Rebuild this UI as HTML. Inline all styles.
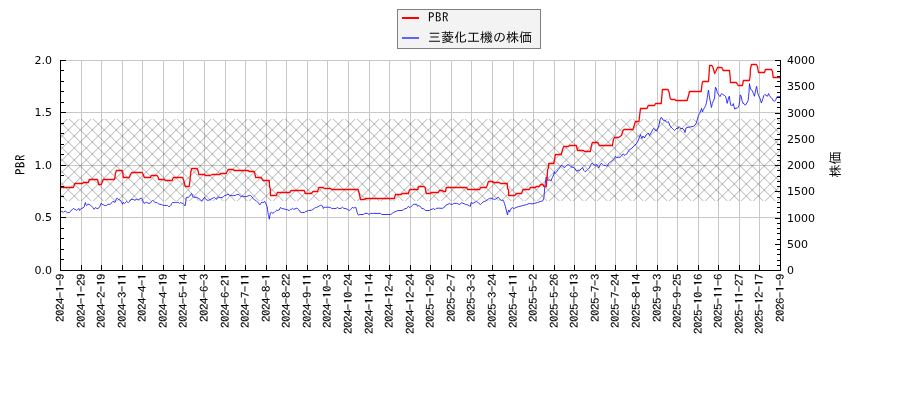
<!DOCTYPE html>
<html><head><meta charset="utf-8"><style>html,body{margin:0;padding:0;background:#fff;overflow:hidden}svg{display:block;will-change:transform}</style></head>
<body><svg width="900" height="400" viewBox="0 0 900 400">
<rect width="900" height="400" fill="#ffffff"/>
<path d="M81.5 60V270M101.5 60V270M122.5 60V270M142.5 60V270M163.5 60V270M183.5 60V270M204.5 60V270M225.5 60V270M245.5 60V270M266.5 60V270M286.5 60V270M307.5 60V270M327.5 60V270M348.5 60V270M369.5 60V270M389.5 60V270M410.5 60V270M430.5 60V270M451.5 60V270M471.5 60V270M492.5 60V270M513.5 60V270M533.5 60V270M554.5 60V270M574.5 60V270M595.5 60V270M615.5 60V270M636.5 60V270M657.5 60V270M677.5 60V270M698.5 60V270M718.5 60V270M739.5 60V270M759.5 60V270M60 217.5H780M60 165.5H780M60 112.5H780M60 60.5H780" stroke="#c8c8c8" stroke-width="1" fill="none"/>
<clipPath id="hc"><rect x="61" y="119" width="719" height="82"/></clipPath>
<g clip-path="url(#hc)" fill="none" stroke="#000" stroke-opacity="0.31" stroke-width="1.0"><path d="M45.30 117L-40.70 203M57.30 117L-28.70 203M69.30 117L-16.70 203M81.30 117L-4.70 203M93.30 117L7.30 203M105.30 117L19.30 203M117.30 117L31.30 203M129.30 117L43.30 203M141.30 117L55.30 203M153.30 117L67.30 203M165.30 117L79.30 203M177.30 117L91.30 203M189.30 117L103.30 203M201.30 117L115.30 203M213.30 117L127.30 203M225.30 117L139.30 203M237.30 117L151.30 203M249.30 117L163.30 203M261.30 117L175.30 203M273.30 117L187.30 203M285.30 117L199.30 203M297.30 117L211.30 203M309.30 117L223.30 203M321.30 117L235.30 203M333.30 117L247.30 203M345.30 117L259.30 203M357.30 117L271.30 203M369.30 117L283.30 203M381.30 117L295.30 203M393.30 117L307.30 203M405.30 117L319.30 203M417.30 117L331.30 203M429.30 117L343.30 203M441.30 117L355.30 203M453.30 117L367.30 203M465.30 117L379.30 203M477.30 117L391.30 203M489.30 117L403.30 203M501.30 117L415.30 203M513.30 117L427.30 203M525.30 117L439.30 203M537.30 117L451.30 203M549.30 117L463.30 203M561.30 117L475.30 203M573.30 117L487.30 203M585.30 117L499.30 203M597.30 117L511.30 203M609.30 117L523.30 203M621.30 117L535.30 203M633.30 117L547.30 203M645.30 117L559.30 203M657.30 117L571.30 203M669.30 117L583.30 203M681.30 117L595.30 203M693.30 117L607.30 203M705.30 117L619.30 203M717.30 117L631.30 203M729.30 117L643.30 203M741.30 117L655.30 203M753.30 117L667.30 203M765.30 117L679.30 203M777.30 117L691.30 203M789.30 117L703.30 203M801.30 117L715.30 203M813.30 117L727.30 203M825.30 117L739.30 203M837.30 117L751.30 203M849.30 117L763.30 203M861.30 117L775.30 203M873.30 117L787.30 203"/><path d="M-40.70 117L45.30 203M-28.70 117L57.30 203M-16.70 117L69.30 203M-4.70 117L81.30 203M7.30 117L93.30 203M19.30 117L105.30 203M31.30 117L117.30 203M43.30 117L129.30 203M55.30 117L141.30 203M67.30 117L153.30 203M79.30 117L165.30 203M91.30 117L177.30 203M103.30 117L189.30 203M115.30 117L201.30 203M127.30 117L213.30 203M139.30 117L225.30 203M151.30 117L237.30 203M163.30 117L249.30 203M175.30 117L261.30 203M187.30 117L273.30 203M199.30 117L285.30 203M211.30 117L297.30 203M223.30 117L309.30 203M235.30 117L321.30 203M247.30 117L333.30 203M259.30 117L345.30 203M271.30 117L357.30 203M283.30 117L369.30 203M295.30 117L381.30 203M307.30 117L393.30 203M319.30 117L405.30 203M331.30 117L417.30 203M343.30 117L429.30 203M355.30 117L441.30 203M367.30 117L453.30 203M379.30 117L465.30 203M391.30 117L477.30 203M403.30 117L489.30 203M415.30 117L501.30 203M427.30 117L513.30 203M439.30 117L525.30 203M451.30 117L537.30 203M463.30 117L549.30 203M475.30 117L561.30 203M487.30 117L573.30 203M499.30 117L585.30 203M511.30 117L597.30 203M523.30 117L609.30 203M535.30 117L621.30 203M547.30 117L633.30 203M559.30 117L645.30 203M571.30 117L657.30 203M583.30 117L669.30 203M595.30 117L681.30 203M607.30 117L693.30 203M619.30 117L705.30 203M631.30 117L717.30 203M643.30 117L729.30 203M655.30 117L741.30 203M667.30 117L753.30 203M679.30 117L765.30 203M691.30 117L777.30 203M703.30 117L789.30 203M715.30 117L801.30 203M727.30 117L813.30 203M739.30 117L825.30 203M751.30 117L837.30 203M763.30 117L849.30 203M775.30 117L861.30 203M787.30 117L873.30 203"/></g>
<clipPath id="ac"><rect x="60" y="60" width="721" height="211"/></clipPath>
<g clip-path="url(#ac)" fill="none" stroke-linejoin="round" stroke-linecap="butt">
<polyline points="60.83,211.33 62.08,211.50 63.33,212.33 64.17,211.50 65.42,211.17 66.25,211.75 67.50,212.58 69.17,212.58 70.42,211.50 71.67,210.08 73.33,208.42 74.58,209.25 75.83,209.50 76.67,210.50 77.50,209.67 78.75,208.42 79.58,210.50 80.42,209.25 81.67,208.42 82.92,208.00 84.17,206.75 85.00,203.83 85.42,202.58 85.83,204.67 86.67,205.50 87.50,204.25 89.17,204.25 90.42,205.08 91.67,206.33 92.92,207.58 94.17,209.25 95.42,207.58 96.67,208.42 98.33,208.42 99.58,206.75 100.42,205.08 101.25,203.17 102.08,204.25 103.33,204.67 104.58,205.50 105.83,205.67 106.67,205.33 107.92,204.25 109.17,204.25 110.42,204.25 111.25,203.42 112.08,202.17 112.92,201.33 114.17,201.75 115.00,202.58 115.83,200.08 116.67,198.42 117.50,198.42 118.33,199.25 119.17,200.08 120.00,199.67 120.83,200.92 121.67,202.17 122.50,204.25 123.33,202.58 124.58,203.42 125.83,202.17 126.67,201.33 127.50,202.17 128.33,202.58 129.58,201.33 130.83,199.67 132.08,199.25 133.33,199.50 135.00,200.33 135.00,200.08 136.25,199.25 137.50,199.67 138.75,199.50 140.00,198.83 141.25,198.17 142.08,198.83 142.92,200.92 144.17,203.42 145.42,202.58 146.67,202.33 147.92,203.00 149.17,203.42 150.42,203.00 151.25,201.75 152.50,200.50 153.33,200.92 154.58,202.00 155.83,202.58 157.08,202.58 158.33,203.83 159.58,204.25 161.25,204.50 162.50,205.08 163.75,205.50 165.00,205.33 166.25,205.50 167.50,205.50 168.75,206.50 170.00,206.33 170.83,205.50 171.67,203.42 172.50,202.58 174.17,202.58 175.83,202.33 177.50,202.33 178.75,202.58 179.58,203.42 180.42,202.58 181.67,203.00 182.92,203.42 184.17,204.67 185.00,205.92 185.42,204.67 185.83,200.50 186.25,197.58 187.08,197.17 188.33,197.58 189.17,196.33 190.00,195.92 190.83,194.25 191.50,193.42 192.08,194.67 192.50,196.33 193.33,197.17 195.00,197.33 196.67,197.33 197.92,198.00 199.17,198.83 200.42,199.67 201.67,201.33 202.50,200.08 203.75,198.42 204.58,197.17 205.42,198.83 206.67,200.08 208.33,200.33 210.00,199.67 210.00,199.58 211.67,198.75 213.33,197.92 214.58,197.50 215.83,198.75 216.67,199.33 217.50,197.67 218.75,197.33 220.42,197.50 222.08,197.50 223.33,196.67 224.58,195.67 226.25,195.17 227.92,194.17 229.17,194.83 230.00,195.83 230.83,195.17 232.08,195.67 233.75,195.67 235.42,195.42 236.67,194.58 237.92,194.33 239.17,194.83 240.00,195.67 241.25,196.67 242.50,196.00 243.75,196.50 245.00,196.67 246.67,196.50 247.92,196.00 249.17,195.42 250.42,195.42 251.25,196.00 252.08,197.08 253.33,198.75 254.58,200.00 255.83,200.42 257.08,201.67 258.33,202.92 259.58,204.58 260.42,204.33 261.25,202.50 262.50,202.33 263.75,202.50 264.58,201.25 265.42,202.50 266.25,204.58 267.08,206.67 267.50,209.17 267.92,212.50 268.33,214.58 268.75,215.83 269.33,219.17 269.83,215.83 270.42,212.92 271.67,212.33 272.92,213.33 274.17,212.50 275.42,211.25 276.67,210.17 277.92,210.42 279.17,210.00 280.42,207.50 281.67,208.33 282.92,208.75 284.17,208.75 285.00,209.33 285.00,209.33 286.25,209.50 287.50,209.75 289.17,210.58 290.42,209.33 291.67,209.17 292.50,208.33 293.75,209.33 295.00,208.92 296.25,208.33 297.50,208.33 298.75,209.75 300.00,211.83 301.25,212.50 302.92,212.50 304.58,212.42 305.83,211.42 307.08,211.17 308.33,210.58 310.00,210.33 311.67,210.17 312.92,209.33 314.17,208.50 315.42,207.50 316.67,207.25 317.92,206.83 319.17,206.00 320.42,205.33 321.67,205.33 322.50,206.00 323.33,208.50 324.17,207.25 325.83,207.25 327.50,207.25 329.17,207.25 330.42,207.50 331.67,208.33 333.33,208.50 335.00,208.50 336.25,208.33 337.50,207.50 338.75,208.50 340.00,208.50 341.25,208.08 342.50,207.25 343.75,208.33 345.00,208.50 346.67,208.92 348.33,209.75 349.58,210.58 350.83,209.33 351.67,208.33 352.50,207.25 353.33,208.08 354.58,207.67 355.67,207.25 356.25,208.92 357.08,212.25 357.92,214.50 358.75,215.17 360.00,214.33 360.00,214.50 363.33,214.50 364.58,213.42 367.50,213.42 369.17,214.50 370.42,213.42 373.33,213.42 380.42,213.42 381.67,214.50 390.83,214.50 392.08,213.42 393.33,212.58 395.00,211.75 396.67,211.17 397.92,210.50 402.08,210.50 403.33,209.67 405.00,208.67 406.67,208.42 407.50,207.58 408.33,206.33 409.17,207.17 410.00,207.58 411.25,206.33 412.50,205.33 413.75,204.25 416.67,204.25 417.50,206.33 418.33,205.50 419.58,205.92 420.83,207.17 421.67,208.42 423.33,208.67 424.58,209.67 425.83,210.50 429.58,210.50 430.42,209.50 432.08,209.25 433.33,208.42 434.17,209.25 435.00,209.67 435.00,209.58 436.25,208.33 438.33,208.17 442.50,208.33 443.75,207.50 445.00,206.67 446.25,204.83 447.92,204.33 449.58,203.33 450.83,204.33 452.50,204.33 453.75,203.33 456.67,203.33 457.92,203.75 459.17,204.58 460.42,204.00 461.67,202.50 462.92,203.33 464.17,203.75 465.42,204.33 466.67,204.58 467.92,205.00 469.17,205.83 470.42,206.25 471.00,202.50 472.08,203.33 473.33,203.17 475.00,202.33 476.25,201.25 477.50,202.08 478.75,203.33 480.42,204.58 481.67,203.33 482.92,202.08 484.17,201.50 485.83,200.83 487.08,200.00 488.33,199.17 489.58,198.33 490.83,198.17 492.08,198.50 493.33,199.17 494.58,199.33 495.83,199.00 497.08,197.92 498.33,197.33 499.17,198.33 500.42,200.00 501.67,200.42 502.92,200.00 503.75,201.67 504.58,203.75 505.42,206.67 506.25,210.00 507.08,213.33 507.50,215.00 508.17,211.67 508.75,210.00 509.58,212.08 510.00,210.83 510.14,210.68 511.08,208.65 512.43,207.57 513.78,208.65 515.81,207.57 518.51,206.62 521.22,205.95 523.92,205.27 526.62,204.59 529.32,203.51 532.03,203.92 534.73,203.24 537.43,202.57 540.14,201.62 542.84,200.81 543.92,197.84 544.46,191.08 545.00,185.68 545.54,180.95 546.22,176.89 547.57,180.27 549.59,180.00 550.95,180.95 552.30,177.57 553.65,174.86 554.32,172.16 555.00,173.51 556.35,172.16 558.38,169.46 560.41,166.76 561.76,165.14 563.11,166.76 565.00,167.43 565.42,166.67 566.67,165.42 568.33,164.58 569.58,165.42 570.83,166.67 572.50,167.50 573.75,167.50 575.00,168.75 576.67,171.25 577.92,170.42 580.00,170.00 581.25,168.75 582.50,167.50 583.75,170.42 585.00,171.67 586.25,170.83 587.50,169.58 588.75,168.33 589.58,167.92 590.42,165.42 591.67,163.33 592.92,163.75 594.17,165.00 595.42,165.42 596.67,164.58 597.92,166.25 598.75,167.92 600.00,165.00 601.25,163.33 602.50,164.17 603.75,165.42 605.42,165.42 606.67,166.25 607.50,165.83 608.33,163.75 609.58,162.50 610.83,161.67 612.08,160.67 613.33,159.58 614.58,157.92 615.42,156.25 616.67,157.50 618.33,157.33 620.00,157.33 621.25,156.25 622.08,155.00 623.33,153.75 624.58,155.42 625.42,154.58 626.67,154.17 627.92,152.08 628.75,150.42 630.00,149.50 632.00,148.00 634.00,146.00 636.50,143.50 638.00,141.00 639.50,137.00 640.50,134.50 641.00,136.50 642.00,138.50 643.00,136.00 644.50,138.00 646.00,135.00 647.50,134.00 648.50,133.00 649.50,135.50 651.00,133.00 652.50,130.00 653.50,128.50 654.50,129.00 656.00,131.00 657.00,130.50 658.00,128.00 659.00,125.00 660.00,120.00 661.00,117.50 662.00,118.00 663.00,120.00 664.00,120.50 665.00,120.00 666.00,121.50 667.00,122.50 668.00,121.50 669.00,123.00 670.00,126.00 671.00,127.00 672.50,128.50 673.50,129.50 674.50,130.50 675.50,129.50 677.00,128.00 678.00,128.50 679.00,126.50 680.00,127.50 681.00,129.00 682.00,128.00 683.00,129.00 684.00,130.00 685.00,132.50 686.00,128.00 687.00,127.50 693.67,126.33 695.00,125.00 696.33,123.00 697.67,118.33 698.40,115.55 699.75,113.30 701.10,109.70 701.55,108.35 702.45,111.95 703.35,109.70 704.70,107.45 705.60,105.65 706.50,102.50 707.40,97.10 707.85,93.50 708.48,90.08 709.20,95.30 710.10,100.70 711.00,105.20 711.45,107.45 712.35,103.40 713.70,100.25 714.60,98.00 715.05,90.80 715.50,87.20 716.40,89.00 717.30,92.60 718.65,94.85 720.00,96.65 720.90,94.85 721.80,93.50 723.15,94.85 724.50,95.30 725.40,96.20 726.30,98.90 727.20,103.40 728.10,99.80 729.00,96.65 729.45,96.20 729.90,100.70 730.80,105.20 731.70,106.10 732.60,105.20 733.32,103.58 733.95,106.55 734.86,109.25 735.76,107.90 737.11,108.35 738.01,107.45 738.91,105.65 739.63,101.60 740.26,94.85 741.16,96.20 742.06,100.70 742.96,103.40 744.04,103.58 744.05,103.90 745.40,105.25 746.75,103.00 748.10,100.75 748.55,96.70 749.00,92.20 749.45,83.65 750.08,86.80 750.80,89.50 752.15,90.40 753.50,93.55 754.40,96.25 755.30,92.20 756.20,87.70 756.65,86.35 757.55,92.20 758.45,95.35 759.35,97.15 760.25,98.95 761.33,103.00 762.05,101.20 762.95,98.50 763.85,95.35 764.75,94.45 766.10,95.35 767.45,96.25 768.62,93.55 769.25,95.35 770.60,97.15 771.95,98.50 773.30,100.75 774.65,101.20 775.82,99.85 776.72,97.15 777.62,96.25 778.70,96.52 780.05,96.70 782.30,96.70" stroke="#1010ff" stroke-width="0.85"/>
<polyline points="60.83,187.50 65.00,187.50 68.30,187.50 73.30,187.50 74.20,185.50 74.80,183.50 82.50,183.50 83.30,182.50 88.30,182.50 89.30,179.50 97.50,179.50 98.30,182.50 98.75,184.50 101.25,184.50 102.10,182.50 103.30,179.50 114.20,179.50 115.00,177.50 115.40,173.50 116.50,170.50 122.10,170.50 122.90,173.50 123.30,177.50 129.20,177.50 130.40,174.50 131.70,172.50 135.00,172.50 135.00,172.50 142.10,172.50 143.30,174.50 144.30,177.50 150.40,177.50 151.25,175.50 157.10,175.50 158.30,177.50 158.75,179.50 164.20,179.50 165.40,180.50 172.10,180.50 173.30,177.50 182.50,177.50 183.75,180.50 185.00,185.50 185.80,186.50 189.20,186.50 190.00,180.50 190.70,172.50 191.70,168.50 197.10,168.50 198.30,171.50 198.75,174.50 204.60,174.50 205.40,175.50 210.00,175.50 210.00,175.50 212.10,174.50 220.00,174.50 220.40,173.50 226.25,173.50 227.10,171.50 228.30,169.50 233.30,169.50 234.20,170.50 248.30,170.50 249.20,171.50 254.20,171.50 255.00,174.50 255.70,177.50 261.25,177.50 262.50,179.50 263.30,180.50 269.20,180.50 269.25,180.50 269.70,187.50 270.30,188.50 270.50,195.50 276.30,195.50 277.30,192.50 289.70,192.50 291.30,190.50 304.25,190.50 305.30,193.50 311.30,193.50 313.00,191.50 317.60,191.50 318.80,187.50 323.00,187.50 324.25,188.50 330.50,188.50 331.75,189.50 343.00,189.50 343.00,189.50 358.00,189.50 358.80,191.50 359.70,195.50 360.50,199.50 364.70,199.50 365.50,198.50 394.25,198.50 395.50,194.50 401.30,194.50 402.20,193.50 408.40,193.50 409.25,190.50 410.10,189.50 418.00,189.50 418.00,187.50 418.80,186.50 423.80,186.50 425.10,187.50 425.90,191.50 426.30,193.50 430.50,193.50 431.30,192.50 438.40,192.50 439.25,190.50 442.60,190.50 443.40,191.50 445.50,191.50 446.30,187.50 447.20,187.50 466.75,187.50 467.60,189.50 479.70,189.50 480.50,187.50 486.30,187.50 487.20,185.50 488.40,181.50 493.00,181.50 493.00,182.50 499.25,182.50 500.50,183.50 507.25,183.50 507.50,188.50 508.50,189.50 508.60,195.50 514.75,195.50 515.50,194.50 516.25,193.50 521.50,193.50 522.25,191.50 523.00,189.50 529.50,189.50 530.25,187.50 535.50,187.50 536.25,186.50 539.00,186.50 540.00,185.50 540.50,184.50 542.20,184.50 543.00,184.50 543.80,186.50 546.30,186.50 546.75,180.50 547.20,176.50 547.60,169.50 548.30,168.50 548.75,163.50 553.75,163.50 554.60,159.50 555.40,154.50 561.25,154.50 562.10,151.50 562.90,148.50 563.75,146.50 568.30,146.50 569.60,145.50 576.25,145.50 577.10,148.50 577.70,150.50 583.30,150.50 584.60,151.50 590.40,151.50 591.25,146.50 592.30,142.50 597.90,142.50 599.20,145.50 600.00,145.50 612.50,145.50 612.90,142.50 613.50,139.50 614.50,137.50 618.50,137.50 620.00,136.50 621.50,135.50 623.00,130.50 624.00,129.50 633.00,129.50 634.50,124.50 635.50,121.50 639.00,121.50 639.50,116.50 640.50,108.50 647.00,108.50 648.20,105.50 654.50,105.50 655.60,103.50 661.25,103.50 662.40,89.50 668.00,89.50 669.10,92.50 670.25,98.50 671.40,99.50 674.75,99.50 675.90,100.50 687.10,100.50 688.80,94.50 689.40,91.50 701.20,91.50 702.30,82.50 702.90,81.50 708.50,81.50 709.10,73.50 709.60,65.50 711.90,65.50 713.00,67.50 714.70,73.50 715.80,71.50 717.50,67.50 720.90,67.50 721.75,67.50 722.80,69.50 723.15,70.50 729.45,70.50 730.15,76.50 730.50,82.50 736.45,82.50 737.50,84.50 738.20,85.50 742.40,85.50 743.45,80.50 749.40,80.50 750.10,76.50 750.45,68.50 751.50,64.50 756.40,64.50 757.45,66.50 758.50,72.50 764.45,72.50 765.50,69.50 771.45,69.50 772.50,71.50 773.20,77.50 779.80,77.50 781.50,77.50" stroke="#ff0000" stroke-width="1.3"/>
</g>
<path d="M60.5 60V271M60 270.5H781M780.5 60V271" stroke="#000" stroke-width="1" fill="none"/>
<path d="M60.5 270V265M81.5 270V265M101.5 270V265M122.5 270V265M142.5 270V265M163.5 270V265M183.5 270V265M204.5 270V265M225.5 270V265M245.5 270V265M266.5 270V265M286.5 270V265M307.5 270V265M327.5 270V265M348.5 270V265M369.5 270V265M389.5 270V265M410.5 270V265M430.5 270V265M451.5 270V265M471.5 270V265M492.5 270V265M513.5 270V265M533.5 270V265M554.5 270V265M574.5 270V265M595.5 270V265M615.5 270V265M636.5 270V265M657.5 270V265M677.5 270V265M698.5 270V265M718.5 270V265M739.5 270V265M759.5 270V265M780.5 270V265M61 270.5H66M61 259.5H64M61 249.5H64M61 238.5H64M61 228.5H64M61 217.5H66M61 207.5H64M61 196.5H64M61 186.5H64M61 175.5H64M61 165.5H66M61 154.5H64M61 144.5H64M61 133.5H64M61 123.5H64M61 112.5H66M61 102.5H64M61 91.5H64M61 81.5H64M61 70.5H64M61 60.5H66M780 270.5H775M780 265.5H777M780 260.5H777M780 254.5H777M780 249.5H777M780 244.5H775M780 239.5H777M780 233.5H777M780 228.5H777M780 223.5H777M780 218.5H775M780 212.5H777M780 207.5H777M780 202.5H777M780 197.5H777M780 191.5H775M780 186.5H777M780 181.5H777M780 176.5H777M780 170.5H777M780 165.5H775M780 160.5H777M780 155.5H777M780 149.5H777M780 144.5H777M780 139.5H775M780 134.5H777M780 128.5H777M780 123.5H777M780 118.5H777M780 113.5H775M780 107.5H777M780 102.5H777M780 97.5H777M780 92.5H777M780 86.5H775M780 81.5H777M780 76.5H777M780 71.5H777M780 65.5H777M780 60.5H775" stroke="#000" stroke-width="1" fill="none"/>
<text x="52" y="274.4" font-family="DejaVu Sans, sans-serif" font-size="11" text-anchor="end">0.0</text>
<text x="52" y="221.4" font-family="DejaVu Sans, sans-serif" font-size="11" text-anchor="end">0.5</text>
<text x="52" y="169.4" font-family="DejaVu Sans, sans-serif" font-size="11" text-anchor="end">1.0</text>
<text x="52" y="116.4" font-family="DejaVu Sans, sans-serif" font-size="11" text-anchor="end">1.5</text>
<text x="52" y="64.4" font-family="DejaVu Sans, sans-serif" font-size="11" text-anchor="end">2.0</text>
<text x="787" y="274.4" font-family="DejaVu Sans, sans-serif" font-size="11">0</text>
<text x="787" y="248.4" font-family="DejaVu Sans, sans-serif" font-size="11">500</text>
<text x="787" y="222.4" font-family="DejaVu Sans, sans-serif" font-size="11">1000</text>
<text x="787" y="195.4" font-family="DejaVu Sans, sans-serif" font-size="11">1500</text>
<text x="787" y="169.4" font-family="DejaVu Sans, sans-serif" font-size="11">2000</text>
<text x="787" y="143.4" font-family="DejaVu Sans, sans-serif" font-size="11">2500</text>
<text x="787" y="117.4" font-family="DejaVu Sans, sans-serif" font-size="11">3000</text>
<text x="787" y="90.4" font-family="DejaVu Sans, sans-serif" font-size="11">3500</text>
<text x="787" y="64.4" font-family="DejaVu Sans, sans-serif" font-size="11">4000</text>
<text transform="translate(63.9 274) rotate(-90) scale(1.2 1)" font-family="IPAGothic, Liberation Mono, monospace" font-size="10.7" letter-spacing="-0.35" stroke="#000" stroke-width="0.12" text-anchor="end">2024-1-9</text>
<text transform="translate(84.9 274) rotate(-90) scale(1.2 1)" font-family="IPAGothic, Liberation Mono, monospace" font-size="10.7" letter-spacing="-0.35" stroke="#000" stroke-width="0.12" text-anchor="end">2024-1-29</text>
<text transform="translate(104.9 274) rotate(-90) scale(1.2 1)" font-family="IPAGothic, Liberation Mono, monospace" font-size="10.7" letter-spacing="-0.35" stroke="#000" stroke-width="0.12" text-anchor="end">2024-2-19</text>
<text transform="translate(125.9 274) rotate(-90) scale(1.2 1)" font-family="IPAGothic, Liberation Mono, monospace" font-size="10.7" letter-spacing="-0.35" stroke="#000" stroke-width="0.12" text-anchor="end">2024-3-11</text>
<text transform="translate(145.9 274) rotate(-90) scale(1.2 1)" font-family="IPAGothic, Liberation Mono, monospace" font-size="10.7" letter-spacing="-0.35" stroke="#000" stroke-width="0.12" text-anchor="end">2024-4-1</text>
<text transform="translate(166.9 274) rotate(-90) scale(1.2 1)" font-family="IPAGothic, Liberation Mono, monospace" font-size="10.7" letter-spacing="-0.35" stroke="#000" stroke-width="0.12" text-anchor="end">2024-4-19</text>
<text transform="translate(186.9 274) rotate(-90) scale(1.2 1)" font-family="IPAGothic, Liberation Mono, monospace" font-size="10.7" letter-spacing="-0.35" stroke="#000" stroke-width="0.12" text-anchor="end">2024-5-14</text>
<text transform="translate(207.9 274) rotate(-90) scale(1.2 1)" font-family="IPAGothic, Liberation Mono, monospace" font-size="10.7" letter-spacing="-0.35" stroke="#000" stroke-width="0.12" text-anchor="end">2024-6-3</text>
<text transform="translate(228.9 274) rotate(-90) scale(1.2 1)" font-family="IPAGothic, Liberation Mono, monospace" font-size="10.7" letter-spacing="-0.35" stroke="#000" stroke-width="0.12" text-anchor="end">2024-6-21</text>
<text transform="translate(248.9 274) rotate(-90) scale(1.2 1)" font-family="IPAGothic, Liberation Mono, monospace" font-size="10.7" letter-spacing="-0.35" stroke="#000" stroke-width="0.12" text-anchor="end">2024-7-11</text>
<text transform="translate(269.9 274) rotate(-90) scale(1.2 1)" font-family="IPAGothic, Liberation Mono, monospace" font-size="10.7" letter-spacing="-0.35" stroke="#000" stroke-width="0.12" text-anchor="end">2024-8-1</text>
<text transform="translate(289.9 274) rotate(-90) scale(1.2 1)" font-family="IPAGothic, Liberation Mono, monospace" font-size="10.7" letter-spacing="-0.35" stroke="#000" stroke-width="0.12" text-anchor="end">2024-8-22</text>
<text transform="translate(310.9 274) rotate(-90) scale(1.2 1)" font-family="IPAGothic, Liberation Mono, monospace" font-size="10.7" letter-spacing="-0.35" stroke="#000" stroke-width="0.12" text-anchor="end">2024-9-11</text>
<text transform="translate(330.9 274) rotate(-90) scale(1.2 1)" font-family="IPAGothic, Liberation Mono, monospace" font-size="10.7" letter-spacing="-0.35" stroke="#000" stroke-width="0.12" text-anchor="end">2024-10-3</text>
<text transform="translate(351.9 274) rotate(-90) scale(1.2 1)" font-family="IPAGothic, Liberation Mono, monospace" font-size="10.7" letter-spacing="-0.35" stroke="#000" stroke-width="0.12" text-anchor="end">2024-10-24</text>
<text transform="translate(372.9 274) rotate(-90) scale(1.2 1)" font-family="IPAGothic, Liberation Mono, monospace" font-size="10.7" letter-spacing="-0.35" stroke="#000" stroke-width="0.12" text-anchor="end">2024-11-14</text>
<text transform="translate(392.9 274) rotate(-90) scale(1.2 1)" font-family="IPAGothic, Liberation Mono, monospace" font-size="10.7" letter-spacing="-0.35" stroke="#000" stroke-width="0.12" text-anchor="end">2024-12-4</text>
<text transform="translate(413.9 274) rotate(-90) scale(1.2 1)" font-family="IPAGothic, Liberation Mono, monospace" font-size="10.7" letter-spacing="-0.35" stroke="#000" stroke-width="0.12" text-anchor="end">2024-12-24</text>
<text transform="translate(433.9 274) rotate(-90) scale(1.2 1)" font-family="IPAGothic, Liberation Mono, monospace" font-size="10.7" letter-spacing="-0.35" stroke="#000" stroke-width="0.12" text-anchor="end">2025-1-20</text>
<text transform="translate(454.9 274) rotate(-90) scale(1.2 1)" font-family="IPAGothic, Liberation Mono, monospace" font-size="10.7" letter-spacing="-0.35" stroke="#000" stroke-width="0.12" text-anchor="end">2025-2-7</text>
<text transform="translate(474.9 274) rotate(-90) scale(1.2 1)" font-family="IPAGothic, Liberation Mono, monospace" font-size="10.7" letter-spacing="-0.35" stroke="#000" stroke-width="0.12" text-anchor="end">2025-3-3</text>
<text transform="translate(495.9 274) rotate(-90) scale(1.2 1)" font-family="IPAGothic, Liberation Mono, monospace" font-size="10.7" letter-spacing="-0.35" stroke="#000" stroke-width="0.12" text-anchor="end">2025-3-24</text>
<text transform="translate(516.9 274) rotate(-90) scale(1.2 1)" font-family="IPAGothic, Liberation Mono, monospace" font-size="10.7" letter-spacing="-0.35" stroke="#000" stroke-width="0.12" text-anchor="end">2025-4-11</text>
<text transform="translate(536.9 274) rotate(-90) scale(1.2 1)" font-family="IPAGothic, Liberation Mono, monospace" font-size="10.7" letter-spacing="-0.35" stroke="#000" stroke-width="0.12" text-anchor="end">2025-5-2</text>
<text transform="translate(557.9 274) rotate(-90) scale(1.2 1)" font-family="IPAGothic, Liberation Mono, monospace" font-size="10.7" letter-spacing="-0.35" stroke="#000" stroke-width="0.12" text-anchor="end">2025-5-26</text>
<text transform="translate(577.9 274) rotate(-90) scale(1.2 1)" font-family="IPAGothic, Liberation Mono, monospace" font-size="10.7" letter-spacing="-0.35" stroke="#000" stroke-width="0.12" text-anchor="end">2025-6-13</text>
<text transform="translate(598.9 274) rotate(-90) scale(1.2 1)" font-family="IPAGothic, Liberation Mono, monospace" font-size="10.7" letter-spacing="-0.35" stroke="#000" stroke-width="0.12" text-anchor="end">2025-7-3</text>
<text transform="translate(618.9 274) rotate(-90) scale(1.2 1)" font-family="IPAGothic, Liberation Mono, monospace" font-size="10.7" letter-spacing="-0.35" stroke="#000" stroke-width="0.12" text-anchor="end">2025-7-24</text>
<text transform="translate(639.9 274) rotate(-90) scale(1.2 1)" font-family="IPAGothic, Liberation Mono, monospace" font-size="10.7" letter-spacing="-0.35" stroke="#000" stroke-width="0.12" text-anchor="end">2025-8-14</text>
<text transform="translate(660.9 274) rotate(-90) scale(1.2 1)" font-family="IPAGothic, Liberation Mono, monospace" font-size="10.7" letter-spacing="-0.35" stroke="#000" stroke-width="0.12" text-anchor="end">2025-9-3</text>
<text transform="translate(680.9 274) rotate(-90) scale(1.2 1)" font-family="IPAGothic, Liberation Mono, monospace" font-size="10.7" letter-spacing="-0.35" stroke="#000" stroke-width="0.12" text-anchor="end">2025-9-25</text>
<text transform="translate(701.9 274) rotate(-90) scale(1.2 1)" font-family="IPAGothic, Liberation Mono, monospace" font-size="10.7" letter-spacing="-0.35" stroke="#000" stroke-width="0.12" text-anchor="end">2025-10-16</text>
<text transform="translate(721.9 274) rotate(-90) scale(1.2 1)" font-family="IPAGothic, Liberation Mono, monospace" font-size="10.7" letter-spacing="-0.35" stroke="#000" stroke-width="0.12" text-anchor="end">2025-11-6</text>
<text transform="translate(742.9 274) rotate(-90) scale(1.2 1)" font-family="IPAGothic, Liberation Mono, monospace" font-size="10.7" letter-spacing="-0.35" stroke="#000" stroke-width="0.12" text-anchor="end">2025-11-27</text>
<text transform="translate(762.9 274) rotate(-90) scale(1.2 1)" font-family="IPAGothic, Liberation Mono, monospace" font-size="10.7" letter-spacing="-0.35" stroke="#000" stroke-width="0.12" text-anchor="end">2025-12-17</text>
<text transform="translate(783.9 274) rotate(-90) scale(1.2 1)" font-family="IPAGothic, Liberation Mono, monospace" font-size="10.7" letter-spacing="-0.35" stroke="#000" stroke-width="0.12" text-anchor="end">2026-1-9</text>
<text transform="translate(24.5 164.5) rotate(-90)" font-family="IPAGothic, Noto Sans CJK JP, sans-serif" font-size="13" letter-spacing="0.5" text-anchor="middle">PBR</text>
<text transform="translate(840 164.5) rotate(-90)" font-family="IPAGothic, Noto Sans CJK JP, sans-serif" font-size="13" text-anchor="middle">株価</text>
<rect x="397.5" y="9.5" width="143" height="39" fill="#f3f3f3" stroke="#808080" stroke-width="1"/>
<path d="M402 18H419" stroke="#ff0000" stroke-width="2"/>
<path d="M402 38H419" stroke="#3333ff" stroke-width="1.5"/>
<text x="428" y="21.6" font-family="IPAGothic, Noto Sans CJK JP, sans-serif" font-size="13" letter-spacing="0.5">PBR</text>
<text x="428" y="42" font-family="IPAGothic, Noto Sans CJK JP, sans-serif" font-size="13">三菱化工機の株価</text>
</svg></body></html>
